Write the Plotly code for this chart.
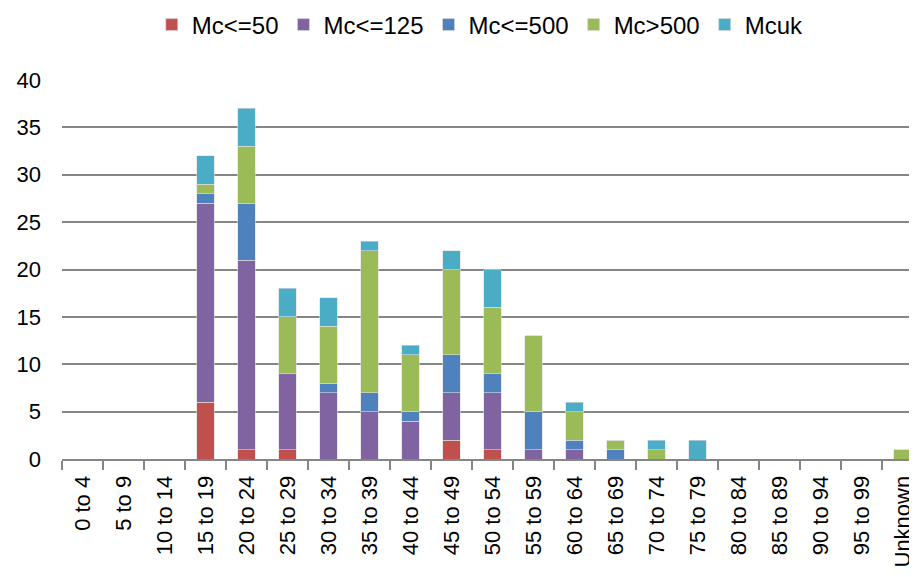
import plotly.graph_objects as go

categories = ["0 to 4", "5 to 9", "10 to 14", "15 to 19", "20 to 24", "25 to 29", "30 to 34",
              "35 to 39", "40 to 44", "45 to 49", "50 to 54", "55 to 59", "60 to 64", "65 to 69",
              "70 to 74", "75 to 79", "80 to 84", "85 to 89", "90 to 94", "95 to 99", "Unknown"]
mc50 =  [0, 0, 0, 6, 1, 1, 0, 0, 0, 2, 1, 0, 0, 0, 0, 0, 0, 0, 0, 0, 0]
mc125 = [0, 0, 0, 21, 20, 8, 7, 5, 4, 5, 6, 1, 1, 0, 0, 0, 0, 0, 0, 0, 0]
mc500 = [0, 0, 0, 1, 6, 0, 1, 2, 1, 4, 2, 4, 1, 1, 0, 0, 0, 0, 0, 0, 0]
mcgt500 = [0, 0, 0, 1, 6, 6, 6, 15, 6, 9, 7, 8, 3, 1, 1, 0, 0, 0, 0, 0, 1]
mcuk =  [0, 0, 0, 3, 4, 3, 3, 1, 1, 2, 4, 0, 1, 0, 1, 2, 0, 0, 0, 0, 0]

series = [("Mc<=50", mc50, "#C0504D"), ("Mc<=125", mc125, "#8064A2"),
          ("Mc<=500", mc500, "#4F81BD"), ("Mc>500", mcgt500, "#9BBB59"),
          ("Mcuk", mcuk, "#4BACC6")]

fig = go.Figure()
for name, vals, col in series:
    fig.add_trace(go.Bar(x=categories, y=vals, name=name,
                         marker=dict(color=col, line=dict(color="#dddddd", width=0.6))))

font = "Liberation Sans"
fig.update_layout(
    barmode="stack", bargap=0.58,
    width=917, height=577,
    margin=dict(l=54, r=2, t=72, b=126),
    plot_bgcolor="white", paper_bgcolor="white",
    font=dict(family=font, size=22, color="#000000"),
    legend=dict(orientation="h", x=0.515, xref="container", xanchor="center", y=0.9705,
                yanchor="middle", yref="container", font=dict(size=24), itemwidth=30,
                traceorder="normal"),
    xaxis=dict(type="category", tickangle=-90, tickson="boundaries", ticks="outside",
               ticklen=9, tickwidth=2, tickcolor="#868686", showline=True, automargin=False,
               linecolor="#868686", linewidth=2, showgrid=False, tickfont=dict(size=22),
               ticklabelstandoff=6),
    yaxis=dict(range=[0, 40], dtick=5, showgrid=True, gridcolor="#868686", gridwidth=2,
               zeroline=False, showline=False, ticks="", automargin=False,
               tickfont=dict(size=22), ticklabelstandoff=20),
)
fig.write_html("out.html")
